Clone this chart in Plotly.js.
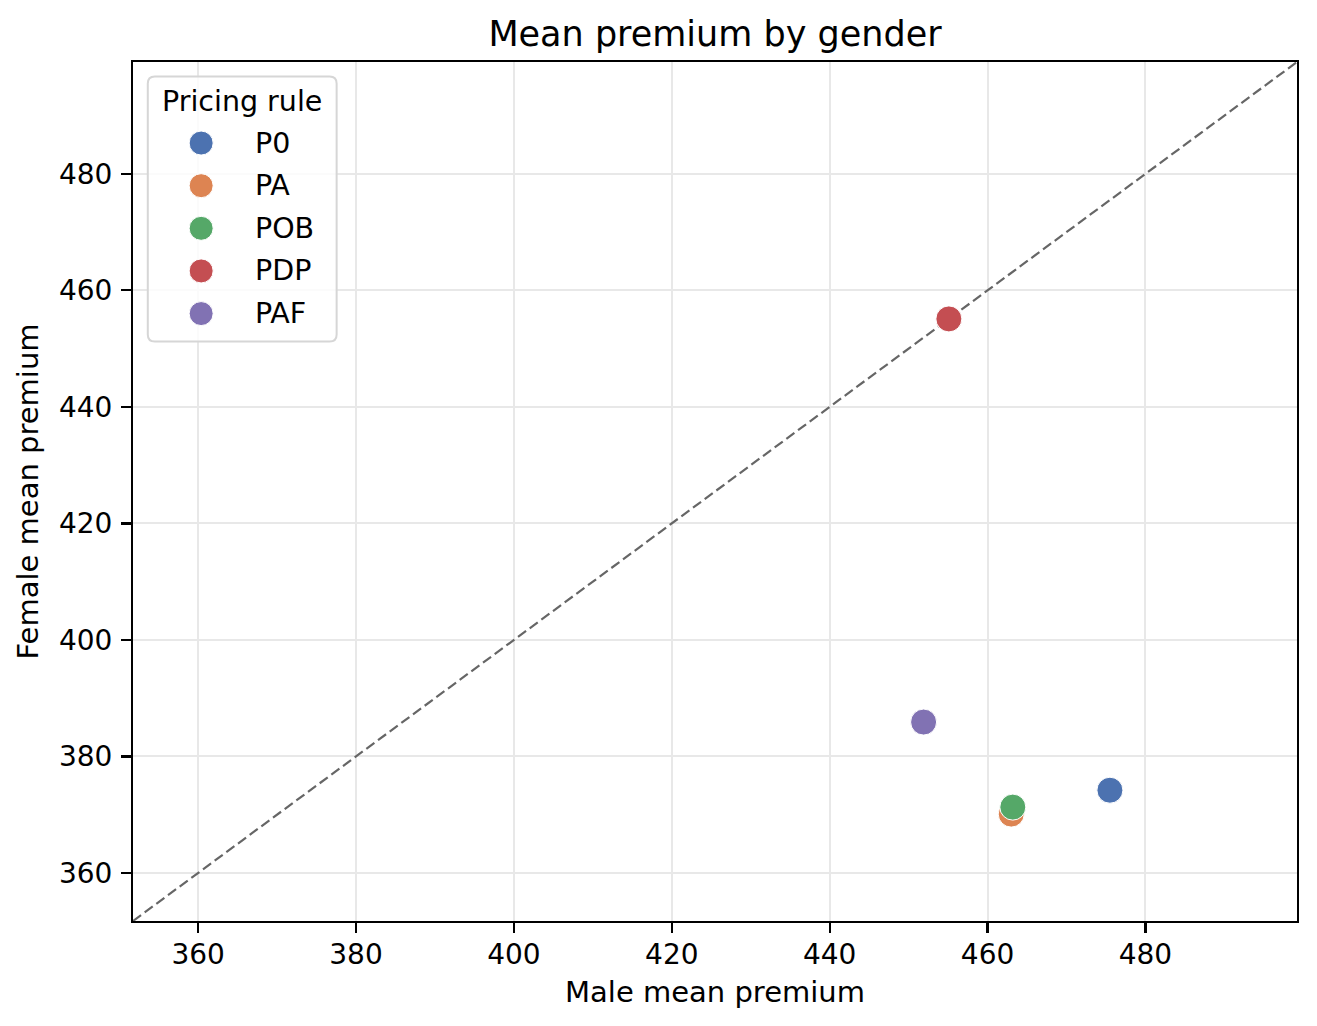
<!DOCTYPE html>
<html>
<head>
<meta charset="utf-8">
<script src="https://cdn.plot.ly/plotly-3.0.1.min.js"></script>
<style>
html,body{margin:0;padding:0;background:#fff;}
#chart{width:1317px;height:1026px;}
</style>
</head>
<body>
<div id="chart"></div>
<script>
// Data
const rules = ["P0", "PA", "POB", "PDP", "PAF"];
const maleMean = [475.5, 463.0, 463.2, 455.1, 451.9];
const femaleMean = [374.2, 370.1, 371.3, 455.1, 385.9];
const colors = ["#4C72B0", "#DD8452", "#55A868", "#C44E52", "#8172B3"];
const axisRange = [351.75, 499.2];
const tickVals = [360, 380, 400, 420, 440, 460, 480];
const legendTitle = "Pricing rule";

const FONT = "DejaVu Sans, Liberation Sans, sans-serif";

// plot area geometry (pixels)
const W = 1317, H = 1026;
const M = {l: 132.5, r: 19.5, t: 62.3, b: 105.3};
const PW = W - M.l - M.r, PH = H - M.t - M.b;
const px2x = px => (px - M.l) / PW;
const py2y = py => (H - M.b - py) / PH;

const traces = [];
// diagonal y = x reference line across the axis range
traces.push({
  x: axisRange, y: axisRange, mode: "lines", type: "scatter",
  line: {color: "#666666", width: 2.2, dash: "10px,4.5px"},
  showlegend: false, hoverinfo: "skip"
});
rules.forEach((r, i) => {
  traces.push({
    x: [maleMean[i]], y: [femaleMean[i]], name: r, type: "scatter", mode: "markers",
    marker: {color: colors[i], size: 26, line: {color: "#ffffff", width: 1}},
    showlegend: false
  });
});

// legend drawn as shapes + annotations (matplotlib-style box)
const shapes = [];
const annotations = [];
const bx0 = px2x(147.3), bx1 = px2x(336.3), by0 = py2y(341.7), by1 = py2y(76.7);
const rx = 7 / PW, ry = 7 / PH;
shapes.push({
  type: "path", xref: "paper", yref: "paper", layer: "above",
  path: `M ${bx0 + rx} ${by1} L ${bx1 - rx} ${by1} Q ${bx1} ${by1} ${bx1} ${by1 - ry} ` +
        `L ${bx1} ${by0 + ry} Q ${bx1} ${by0} ${bx1 - rx} ${by0} L ${bx0 + rx} ${by0} ` +
        `Q ${bx0} ${by0} ${bx0} ${by0 + ry} L ${bx0} ${by1 - ry} Q ${bx0} ${by1} ${bx0 + rx} ${by1} Z`,
  fillcolor: "rgba(255,255,255,0.8)", line: {color: "#d6d6d6", width: 2}
});
annotations.push({
  xref: "paper", yref: "paper", x: px2x(241.8), y: py2y(101.7), xanchor: "center", yanchor: "middle",
  text: legendTitle, showarrow: false, font: {family: FONT, size: 28.5, color: "#000"}
});
rules.forEach((r, i) => {
  const cy = 143.3 + i * 42.6;
  shapes.push({
    type: "circle", xref: "paper", yref: "paper", layer: "above",
    xsizemode: "pixel", ysizemode: "pixel",
    xanchor: px2x(200.7), yanchor: py2y(cy), x0: -12, x1: 12, y0: -12, y1: 12,
    fillcolor: colors[i], line: {color: "#ffffff", width: 1}
  });
  annotations.push({
    xref: "paper", yref: "paper", x: px2x(252.5), y: py2y(cy), xanchor: "left", yanchor: "middle",
    text: r, showarrow: false, font: {family: FONT, size: 28.5, color: "#000"}
  });
});

const axisCommon = {
  range: axisRange, tickvals: tickVals, ticktext: tickVals.map(String),
  showgrid: true, gridcolor: "#e8e8e8", gridwidth: 2,
  zeroline: false, showline: true, linecolor: "#000", linewidth: 2.3, mirror: true,
  ticks: "outside", ticklen: 9.7, tickwidth: 2.2, tickcolor: "#000",
  tickfont: {family: FONT, size: 28, color: "#000"}
};

const layout = {
  width: W, height: H,
  paper_bgcolor: "#fff", plot_bgcolor: "#fff",
  margin: {l: M.l, r: M.r, t: M.t, b: M.b, pad: 0},
  font: {family: FONT, color: "#000"},
  title: {text: "Mean premium by gender", font: {family: FONT, size: 35, color: "#000"},
          x: 0.5, xref: "paper", xanchor: "center", y: 1 - 34 / H, yref: "container", yanchor: "middle"},
  xaxis: Object.assign({}, axisCommon, {
    ticklabelstandoff: -3,
    title: {text: "Male mean premium", font: {family: FONT, size: 29, color: "#000"}, standoff: 12}
  }),
  yaxis: Object.assign({}, axisCommon, {
    ticklabelstandoff: 3,
    title: {text: "Female mean premium", font: {family: FONT, size: 29, color: "#000"}, standoff: 12}
  }),
  shapes: shapes,
  annotations: annotations,
  showlegend: false
};

Plotly.newPlot("chart", traces, layout, {displayModeBar: false, staticPlot: true});
</script>
</body>
</html>
